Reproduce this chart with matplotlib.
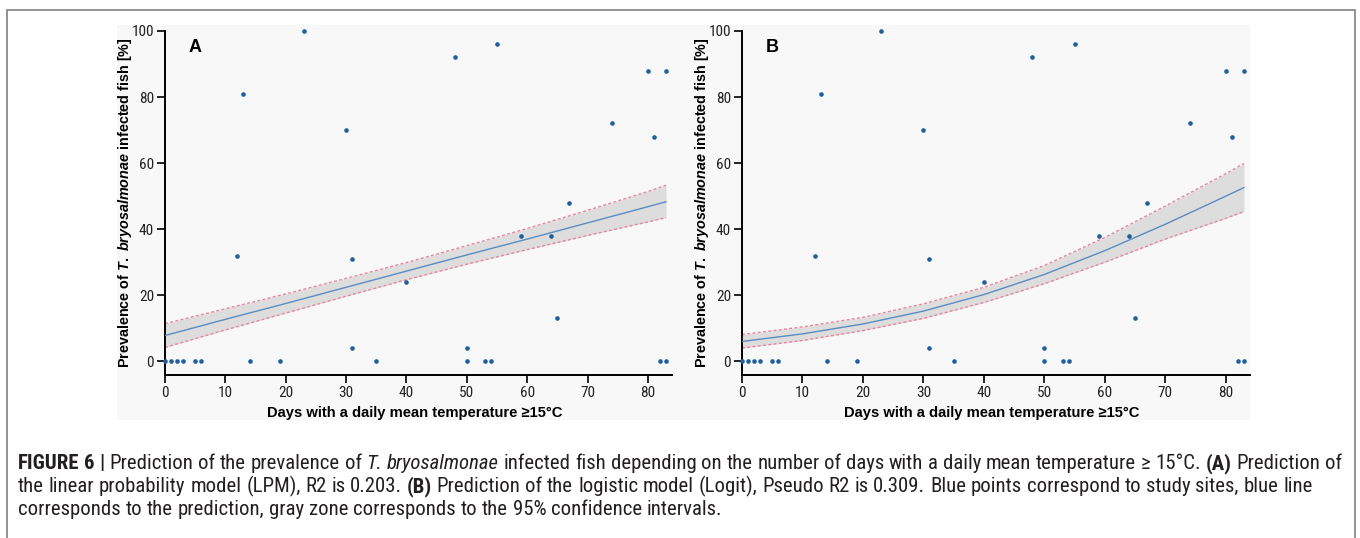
import matplotlib
matplotlib.use("Agg")
import matplotlib.pyplot as plt
from matplotlib import font_manager as fm
from matplotlib.patches import Rectangle

# ---------------- data ----------------
days = [0, 1, 2, 3, 5, 6, 14, 19, 35, 50, 53, 54, 82, 83,
        12, 13, 23, 30, 31, 31, 40, 48, 50, 55, 59, 64, 65, 67, 74, 80, 81, 83]
prevalence = [0, 0, 0, 0, 0, 0, 0, 0, 0, 0, 0, 0, 0, 0,
              32, 81, 100, 70, 31, 4, 24, 92, 4, 96, 38, 38, 13, 48, 72, 88, 68, 88]

# prediction grid
pred_x = [0, 10, 20, 30, 40, 50, 60, 70, 80, 83]
# (A) linear probability model
lpm_fit = [7.8, 12.7, 17.5, 22.4, 27.3, 32.2, 37.0, 41.9, 46.8, 48.3]
lpm_upper = [11.4, 15.9, 20.4, 25.1, 29.9, 35.0, 40.2, 45.7, 51.4, 53.3]
lpm_lower = [4.2, 9.5, 14.6, 19.7, 24.7, 29.4, 33.8, 38.1, 42.2, 43.5]
# (B) logistic model
logit_fit = [6.0, 8.3, 11.3, 15.2, 20.2, 26.3, 33.5, 41.5, 50.0, 52.6]
logit_upper = [8.1, 10.4, 13.3, 17.4, 22.4, 29.0, 37.5, 47.0, 56.8, 59.9]
logit_lower = [4.0, 6.3, 9.3, 13.0, 17.8, 23.5, 30.0, 37.0, 43.3, 45.3]

x_ticks = [0, 10, 20, 30, 40, 50, 60, 70, 80]
y_ticks = [0, 20, 40, 60, 80, 100]
panel_letters = ["A", "B"]
x_label = "Days with a daily mean temperature \u226515\u00b0C"
y_label = r"Prevalence of $\mathit{T.\ bryosalmonae}$ infected fish [%]"

# ---------------- fonts ----------------
names = {f.name for f in fm.fontManager.ttflist}
STRETCH = "normal"
NARROW = None
for cand in ["Liberation Sans Narrow", "Arial Narrow", "Roboto Condensed",
             "Open Sans Condensed", "Noto Sans Condensed"]:
    if cand in names:
        NARROW = cand
        break
if NARROW is None:
    if any(f.name == "DejaVu Sans" and f.stretch == "condensed" for f in fm.fontManager.ttflist):
        NARROW = "DejaVu Sans"
        STRETCH = "condensed"
    else:
        NARROW = "Liberation Sans"
FAM = [NARROW, "DejaVu Sans"]
plt.rcParams["font.stretch"] = STRETCH
plt.rcParams["mathtext.fontset"] = "custom"
plt.rcParams["mathtext.rm"] = "Liberation Sans:bold"
plt.rcParams["mathtext.it"] = "Liberation Sans:italic:bold"
plt.rcParams["mathtext.bf"] = "Liberation Sans:bold"

W, H = 1360, 538
fig = plt.figure(figsize=(W / 100, H / 100), dpi=100)
fig.patch.set_facecolor("white")
renderer = fig.canvas.get_renderer()

def fx(px):
    return px / W

def fy(py):
    return 1 - py / H

def measure(s, size, weight="normal", style="normal", family=FAM, rotation=0):
    t = fig.text(0, 0, s, fontsize=size, weight=weight, style=style,
                 family=family, rotation=rotation)
    bb = t.get_window_extent(renderer=renderer)
    t.remove()
    return bb.height if rotation == 90 else bb.width

# outer frame
fig.patches.append(Rectangle((fx(7), -0.1), fx(1355) - fx(7), fy(10) + 0.1,
                             transform=fig.transFigure, fill=False,
                             edgecolor="#8a8a8a", lw=1.3, zorder=-2))
# light plotting background
fig.patches.append(Rectangle((fx(117), fy(420)), fx(1250) - fx(117), fy(25) - fy(420),
                             transform=fig.transFigure, facecolor="#f8f8f8",
                             edgecolor="none", zorder=-1))

POINT_C = "#1f5f9e"
LINE_C = "#5b8cc0"
FILL_C = "#dddddd"
CI_C = "#e8879f"

LABFAM = ["Liberation Sans", "DejaVu Sans"]
xl_size = 10.7 * 295 / measure(x_label, 10.7, "bold", family=LABFAM)
yl_size = 10.7 * 332 / measure(y_label, 10.7, "bold", family=LABFAM, rotation=90)

panels = [
    (165, 672, lpm_fit, lpm_upper, lpm_lower),
    (742, 1250, logit_fit, logit_upper, logit_lower),
]

for i, (left, right, fit, up, lo) in enumerate(panels):
    ax = fig.add_axes([fx(left), fy(375), fx(right) - fx(left), fy(31) - fy(375)])
    ax.set_zorder(1)
    ax.patch.set_alpha(0)
    ax.set_xlim(0, 84)
    ax.set_ylim(-4.15, 100)
    ax.fill_between(pred_x, lo, up, color=FILL_C, lw=0, zorder=1)
    ax.plot(pred_x, up, color=CI_C, lw=1.0, ls=(0, (2.2, 1.6)), zorder=2)
    ax.plot(pred_x, lo, color=CI_C, lw=1.0, ls=(0, (2.2, 1.6)), zorder=2)
    ax.plot(pred_x, fit, color=LINE_C, lw=1.0, zorder=3)
    ax.scatter(days, prevalence, s=11, color=POINT_C, zorder=5, clip_on=False, lw=0)
    for s in ("top", "right"):
        ax.spines[s].set_visible(False)
    for s in ("left", "bottom"):
        ax.spines[s].set_linewidth(1.4)
        ax.spines[s].set_color("black")
    ax.set_xticks(x_ticks)
    ax.set_yticks(y_ticks)
    ax.tick_params(direction="out", length=6, width=1.2, pad=2, labelsize=11,
                   colors="black")
    for lab in ax.get_xticklabels() + ax.get_yticklabels():
        lab.set_family(FAM)
        lab.set_stretch(STRETCH)
        lab.set_color("#222222")
    cx = (left + right) / 2
    fig.text(fx(cx - 4), fy(413), x_label, ha="center", va="center",
             fontsize=xl_size, weight="bold", family=LABFAM, color="black")
    fig.text(fx(left - 40), fy(203), y_label, ha="center", va="center", rotation=90,
             fontsize=yl_size, weight="bold", family=LABFAM, color="black")
    fig.text(fx(left + 30), fy(47), panel_letters[i], ha="center", va="center",
             fontsize=13, weight="bold", family=LABFAM, color="black")

# ---------------- caption ----------------
CAP_C = "#231f20"

line1 = [("FIGURE 6 |", "bold", "normal"),
         ("Prediction of the prevalence of", "normal", "normal"),
         ("T. bryosalmonae", "normal", "italic"),
         ("infected fish depending on the number of days with a daily mean temperature \u2265 15\u00b0C.",
          "normal", "normal"),
         ("(A)", "bold", "normal"),
         ("Prediction of", "normal", "normal")]
line2 = [("the linear probability model (LPM), R2 is 0.203.", "normal", "normal"),
         ("(B)", "bold", "normal"),
         ("Prediction of the logistic model (Logit), Pseudo R2 is 0.309. Blue points correspond to study sites, blue line",
          "normal", "normal")]
line3 = [("corresponds to the prediction, gray zone corresponds to the 95% confidence intervals.",
          "normal", "normal")]

def words_of(runs):
    out = []
    for s, wt, st in runs:
        for w in s.split(" "):
            out.append((w, wt, st))
    return out

def space_w(size):
    return measure("x x", size) - measure("xx", size)

def draw_words(runs, x0, y, size):
    words = words_of(runs)
    gap = space_w(size)
    x = x0
    texts = []
    right = x0
    for w, wt, st in words:
        t = fig.text(fx(x), fy(y), w, fontsize=size, weight=wt, style=st,
                     family=FAM, color=CAP_C, ha="left", va="baseline")
        texts.append(t)
        bb = t.get_window_extent(renderer=renderer)
        right = bb.x1
        x += bb.width + gap
    return texts, right

# fit the first caption line to the frame width (iterate for hinting effects)
cap_size = 10.0
for _ in range(4):
    tmp, r_edge = draw_words(line1, 18, 469, cap_size)
    for t in tmp:
        t.remove()
    cap_size *= (1341 - 18) / (r_edge - 18)

draw_words(line1, 18, 469, cap_size)
draw_words(line2, 18, 492, cap_size)
draw_words(line3, 18, 515, cap_size)

fig.savefig("out.png", dpi=100, facecolor="white")
